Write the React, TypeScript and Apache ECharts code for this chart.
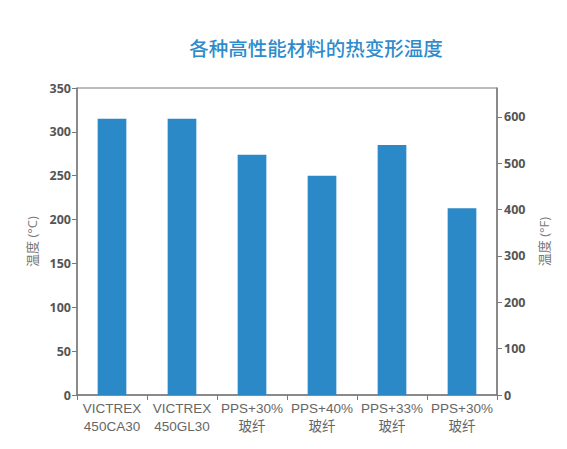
import { useEffect, useRef } from "react";
import * as echarts from "echarts";

const categories = ["VICTREX\n450CA30", "VICTREX\n450GL30", "PPS+30%\n玻纤", "PPS+40%\n玻纤", "PPS+33%\n玻纤", "PPS+30%\n玻纤"];
const tempC = [315, 315, 274, 250, 285, 213];

const FONT = "'Open Sans', 'Noto Sans CJK SC', sans-serif";
const LABEL_FONT = "'Liberation Sans', 'Noto Sans CJK SC', sans-serif";
const AXIS_GREY = "#7a7a7a";

export default function App(): JSX.Element {
  const ref = useRef<HTMLDivElement | null>(null);

  useEffect(() => {
    const el = ref.current;
    if (!el) return;
    const chart = echarts.init(el, null, { renderer: "svg" });
    chart.setOption({
      animation: false,
      textStyle: { fontFamily: FONT },
      title: {
        text: "各种高性能材料的热变形温度",
        left: 311,
        top: 33,
        textAlign: "center",
        textStyle: { color: "#2e8ccc", fontSize: 19.5, fontWeight: 500, fontFamily: "'Noto Sans CJK SC', sans-serif" },
      },
      grid: { left: 77, right: 70, top: 88, bottom: 54, show: true, borderColor: AXIS_GREY, borderWidth: 1 },
      xAxis: {
        type: "category",
        data: categories,
        axisLine: { lineStyle: { color: AXIS_GREY, width: 1.5 } },
        axisTick: { show: true, length: 5, lineStyle: { color: AXIS_GREY } },
        axisLabel: { interval: 0, color: "#666", fontSize: 13.5, lineHeight: 18, margin: 4, fontFamily: LABEL_FONT },
      },
      yAxis: [
        {
          type: "value",
          min: 0,
          max: 350,
          interval: 50,
          name: "温度 (°C)",
          nameLocation: "middle",
          nameRotate: 90,
          nameGap: 38,
          nameTextStyle: { color: "#777", fontSize: 13, fontFamily: FONT },
          axisLine: { show: true, lineStyle: { color: AXIS_GREY, width: 1.5 } },
          axisTick: { show: true, length: 5, lineStyle: { color: AXIS_GREY } },
          axisLabel: { color: "#555", fontSize: 12.5, fontWeight: "bold", margin: 6, fontFamily: FONT },
          splitLine: { show: false },
        },
        {
          type: "value",
          min: 0,
          max: 662,
          interval: 100,
          position: "right",
          name: "温度 (°F)",
          nameLocation: "middle",
          nameRotate: 90,
          nameGap: 40,
          nameTextStyle: { color: "#777", fontSize: 13, fontFamily: FONT },
          axisLine: { show: true, lineStyle: { color: AXIS_GREY, width: 1.5 } },
          axisTick: { show: true, length: 5, lineStyle: { color: AXIS_GREY } },
          axisLabel: { color: "#555", fontSize: 12.5, fontWeight: "bold", margin: 7, showMaxLabel: false, fontFamily: FONT },
          splitLine: { show: false },
        },
      ],
      series: [
        {
          type: "bar",
          data: tempC,
          yAxisIndex: 0,
          barWidth: "41%",
          itemStyle: { color: "#2b89c8" },
        },
      ],
    });
    return () => chart.dispose();
  }, []);

  return <div ref={ref} style={{ position: "fixed", left: 0, top: 0, width: 567, height: 449, background: "#fff" }} />;
}
